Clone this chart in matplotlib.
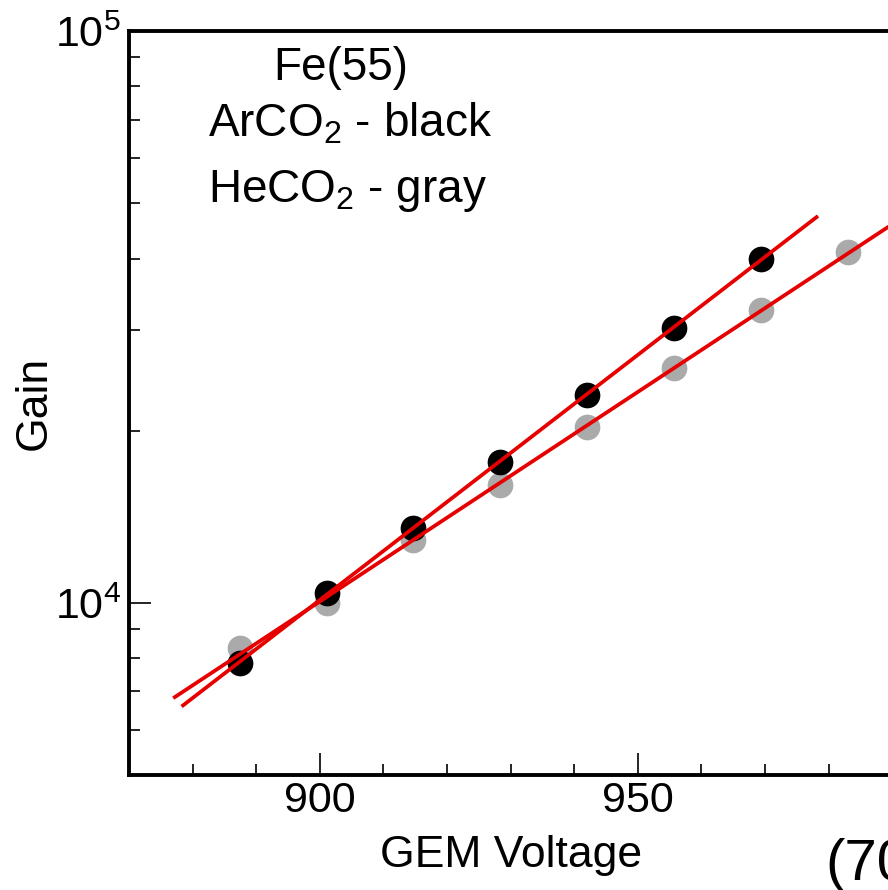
import numpy as np
import matplotlib
matplotlib.use("Agg")
import matplotlib.pyplot as plt
from matplotlib.ticker import LogLocator, MultipleLocator, NullFormatter

plt.rcParams["font.family"] = ["Liberation Sans", "DejaVu Sans"]
plt.rcParams["mathtext.fontset"] = "custom"
plt.rcParams["mathtext.rm"] = "Liberation Sans"

# GEM voltage (V) and measured gain, Fe-55 source
ar_voltage = [887.4, 901.1, 914.6, 928.3, 942.0, 955.7, 969.3]
ar_gain = [7860, 10400, 13520, 17660, 23100, 30220, 39940]

he_voltage = [887.4, 901.1, 914.6, 928.3, 942.0, 955.7, 969.3, 983.0]
he_gain = [8340, 9990, 12890, 16080, 20330, 25720, 32530, 41030]

# voltage span over which each exponential fit is drawn
ar_fit_range = [878.5, 978.1]
he_fit_range = [877.2, 995.0]


def exp_fit(volts, gains, span):
    coef = np.polyfit(volts, np.log10(gains), 1)
    xs = np.linspace(span[0], span[1], 100)
    return xs, 10 ** np.polyval(coef, xs)


fig = plt.figure(figsize=(8.88, 8.90), dpi=100)
ax = fig.add_axes([129 / 888, 115 / 890, 763.2 / 888, 744 / 890])

ax.plot(he_voltage, he_gain, "o", color="#aaaaaa", ms=18.5, mec="none", zorder=2)
ax.plot(ar_voltage, ar_gain, "o", color="black", ms=18.5, mec="none", zorder=3)

xs, ys = exp_fit(he_voltage, he_gain, he_fit_range)
ax.plot(xs, ys, color="#e60000", lw=2.7, zorder=4)
xs, ys = exp_fit(ar_voltage, ar_gain, ar_fit_range)
ax.plot(xs, ys, color="#e60000", lw=2.7, zorder=4)

ax.set_yscale("log")
ax.set_xlim(870, 990)
ax.set_ylim(5000, 100000)

ax.xaxis.set_major_locator(MultipleLocator(50))
ax.xaxis.set_minor_locator(MultipleLocator(10))
ax.yaxis.set_major_locator(LogLocator(base=10))
ax.yaxis.set_minor_locator(LogLocator(base=10, subs=np.arange(2, 10)))
ax.yaxis.set_minor_formatter(NullFormatter())

ax.tick_params(which="both", direction="in", top=False, right=False, width=1.2)
ax.tick_params(which="major", length=16, labelsize=31)
ax.tick_params(axis="x", which="major", pad=4)
ax.tick_params(axis="y", which="major", pad=6)
ax.tick_params(which="minor", length=8)
for spine in ax.spines.values():
    spine.set_linewidth(2.8)

ax.set_xlabel("GEM Voltage", fontsize=32)
ax.set_ylabel("Gain", fontsize=32)
ax.xaxis.set_label_coords(0.5, -0.08)
ax.yaxis.set_label_coords(-0.097, 0.5)

fig.text(341 / 888, 1 - 80 / 890, "Fe(55)", fontsize=33,
         ha="center", va="baseline")
fig.text(208 / 888, 1 - 136 / 890, "ArCO$_\\mathregular{2}$ - black",
         fontsize=33, ha="left", va="baseline")
fig.text(208 / 888, 1 - 202 / 890, "HeCO$_\\mathregular{2}$ - gray",
         fontsize=33, ha="left", va="baseline")

fig.text(825 / 888, 1 - 880 / 890, "(70/30)", fontsize=42,
         ha="left", va="baseline")

fig.savefig("out.png", dpi=100)
